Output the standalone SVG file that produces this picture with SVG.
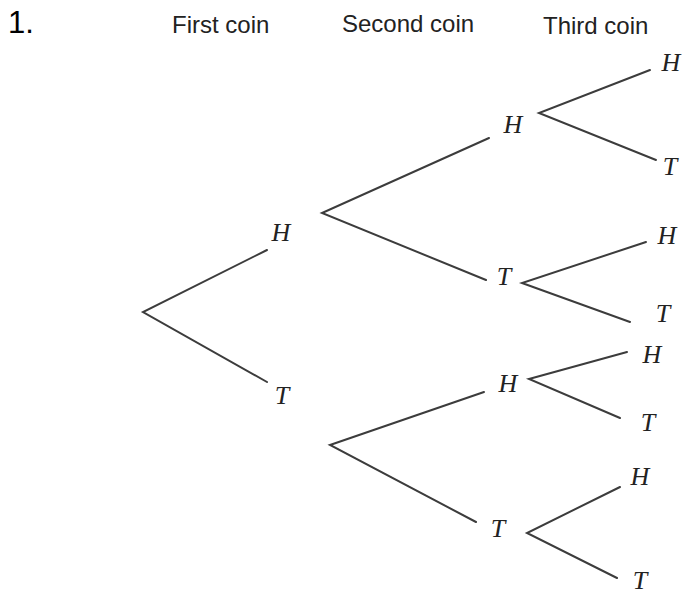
<svg xmlns="http://www.w3.org/2000/svg" width="683" height="594" viewBox="0 0 683 594">
  <style>
    .num { font-family: "Liberation Sans", Arial, sans-serif; font-size: 31px; fill: #000; }
    .head { font-family: "Liberation Sans", Arial, sans-serif; font-size: 24px; fill: #222; }
    .lbl { font-family: "Liberation Serif", "Times New Roman", serif; font-style: italic; font-size: 26px; fill: #222; text-anchor: middle; }
    .br { stroke: #3c3c3c; stroke-width: 2; fill: none; stroke-linecap: round; stroke-linejoin: miter; }
  </style>
  <rect width="683" height="594" fill="#fff"/>

  <!-- headings -->
  <g id="headings">
    <text class="num" x="8" y="33">1.</text>
    <text class="head" x="172" y="33">First coin</text>
    <text class="head" x="342" y="32">Second coin</text>
    <text class="head" x="543" y="34">Third coin</text>
  </g>

  <!-- branches of the tree -->
  <g id="connectors">
    <polyline class="br" points="267,250 143,312 267,382"/>
    <polyline class="br" points="489,138 322,213 486,280"/>
    <polyline class="br" points="484,392 330,445 476,522"/>
    <polyline class="br" points="650,70 539,113 656,160"/>
    <polyline class="br" points="646,242 522,283 630,322"/>
    <polyline class="br" points="627,352 529,379 620,418"/>
    <polyline class="br" points="620,487 527,533 617,578"/>
  </g>

  <!-- first toss -->
  <g id="n1-H"><text class="lbl" x="281" y="241">H</text></g>
  <g id="n1-T"><text class="lbl" x="282" y="404">T</text></g>

  <!-- second toss -->
  <g id="n2-HH"><text class="lbl" x="513" y="133">H</text></g>
  <g id="n2-HT"><text class="lbl" x="504" y="285">T</text></g>
  <g id="n2-TH"><text class="lbl" x="508" y="392">H</text></g>
  <g id="n2-TT"><text class="lbl" x="498" y="537">T</text></g>

  <!-- third toss -->
  <g id="n3-HHH"><text class="lbl" x="671" y="71">H</text></g>
  <g id="n3-HHT"><text class="lbl" x="670" y="175">T</text></g>
  <g id="n3-HTH"><text class="lbl" x="667" y="244">H</text></g>
  <g id="n3-HTT"><text class="lbl" x="663" y="322">T</text></g>
  <g id="n3-THH"><text class="lbl" x="652" y="363">H</text></g>
  <g id="n3-THT"><text class="lbl" x="648" y="431">T</text></g>
  <g id="n3-TTH"><text class="lbl" x="640" y="485">H</text></g>
  <g id="n3-TTT"><text class="lbl" x="640" y="589">T</text></g>
</svg>
